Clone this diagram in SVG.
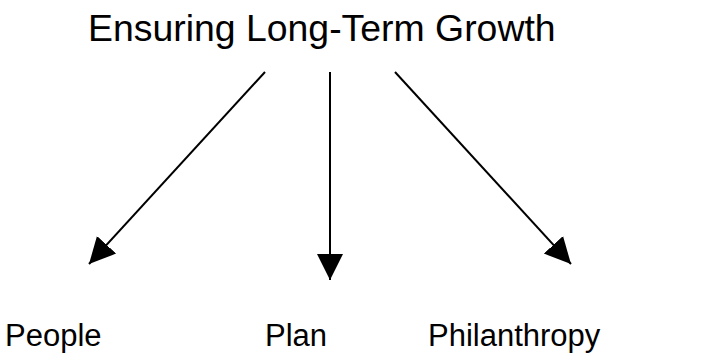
<svg xmlns="http://www.w3.org/2000/svg" width="702" height="358" viewBox="0 0 702 358">
<defs>
<style>
text{font-family:"Liberation Sans",Arial,sans-serif;fill:#000}
.t{font-size:37.4px}
.l{font-size:31px}
.c{stroke:#000;stroke-width:2;fill:none}
</style>
<marker id="ah" markerUnits="userSpaceOnUse" markerWidth="28" markerHeight="28" viewBox="0 0 28 28" refX="26" refY="14" orient="auto">
<path d="M0,1 L26,14 L0,27 Z" fill="#000"/>
</marker>
</defs>
<rect width="702" height="358" fill="#fff"/>
<g id="title"><text class="t" x="88" y="41">Ensuring Long-Term Growth</text></g>
<g id="people"><text class="l" x="5" y="346">People</text></g>
<g id="plan"><text class="l" x="265" y="346">Plan</text></g>
<g id="philanthropy"><text class="l" x="428" y="346">Philanthropy</text></g>
<g id="connectors">
<line class="c" x1="265" y1="72" x2="89" y2="264" marker-end="url(#ah)"/>
<line class="c" x1="330" y1="72" x2="330" y2="280" marker-end="url(#ah)"/>
<line class="c" x1="395" y1="72" x2="571" y2="264" marker-end="url(#ah)"/>
</g>
</svg>
